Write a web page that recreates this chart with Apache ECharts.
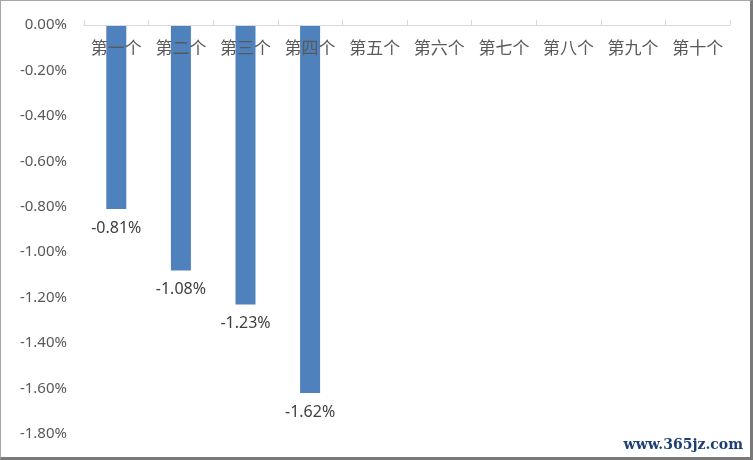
<!DOCTYPE html>
<html>
<head>
<meta charset="utf-8">
<script src="https://cdn.jsdelivr.net/npm/echarts@6/dist/echarts.min.js"></script>
<style>
  html, body { margin: 0; padding: 0; background: #fff; }
  #wrap { position: relative; width: 753px; height: 460px; }
  #chart { position: absolute; left: 0; top: 0; width: 753px; height: 460px; }
  #frame {
    position: absolute; left: 0; top: 0; width: 753px; height: 460px;
    box-sizing: border-box; pointer-events: none;
    border-left: 1px solid #a6a6a6; border-top: 1px solid #a6a6a6;
    border-right: 3px solid #7a7a7a; border-bottom: 3px solid #7a7a7a;
  }
</style>
</head>
<body>
<div id="wrap">
  <div id="chart"></div>
  <div id="frame"></div>
</div>
<script>
var categories = ['第一个', '第二个', '第三个', '第四个', '第五个', '第六个', '第七个', '第八个', '第九个', '第十个'];
// percent values, only the first four have bars
var values = [-0.81, -1.08, -1.23, -1.62];
var yMin = -1.8;
var yMax = 0;
var yStep = 0.2;

var myChart = echarts.init(document.getElementById('chart'));

var option = {
  animation: false,
  grid: {
    left: 84,
    right: 23,
    top: 25,
    bottom: 26
  },
  xAxis: {
    type: 'category',
    position: 'top',
    data: categories,
    z: 5,
    axisLine: {
      lineStyle: { color: '#d9d9d9' }
    },
    axisTick: {
      show: true,
      length: 5,
      lineStyle: { color: '#d9d9d9' }
    },
    axisLabel: {
      inside: true,
      margin: 14,
      interval: 0,
      fontFamily: 'Noto Sans CJK SC',
      fontSize: 17,
      color: '#595959'
    }
  },
  yAxis: {
    type: 'value',
    min: yMin,
    max: yMax,
    interval: yStep,
    axisLine: { show: false },
    axisTick: { show: false },
    splitLine: { show: false },
    axisLabel: {
      margin: 17,
      fontFamily: 'Noto Sans',
      fontSize: 15,
      color: '#595959',
      formatter: function (value) {
        return value.toFixed(2) + '%';
      }
    }
  },
  series: [
    {
      type: 'bar',
      data: values,
      barWidth: 20,
      itemStyle: { color: '#4f81bd' },
      label: {
        show: true,
        position: 'bottom',
        distance: 11,
        fontFamily: 'Noto Sans',
        fontSize: 16,
        color: '#404040',
        formatter: function (p) {
          return p.value.toFixed(2) + '%';
        }
      }
    }
  ],
  graphic: [
    {
      type: 'text',
      right: 10,
      bottom: 8,
      style: {
        text: 'www.365jz.com',
        fontFamily: 'DejaVu Serif',
        fontSize: 14,
        fontWeight: 'bold',
        fill: '#1f3f74'
      }
    }
  ]
};

myChart.setOption(option);

window.addEventListener('resize', myChart.resize);
</script>
</body>
</html>
